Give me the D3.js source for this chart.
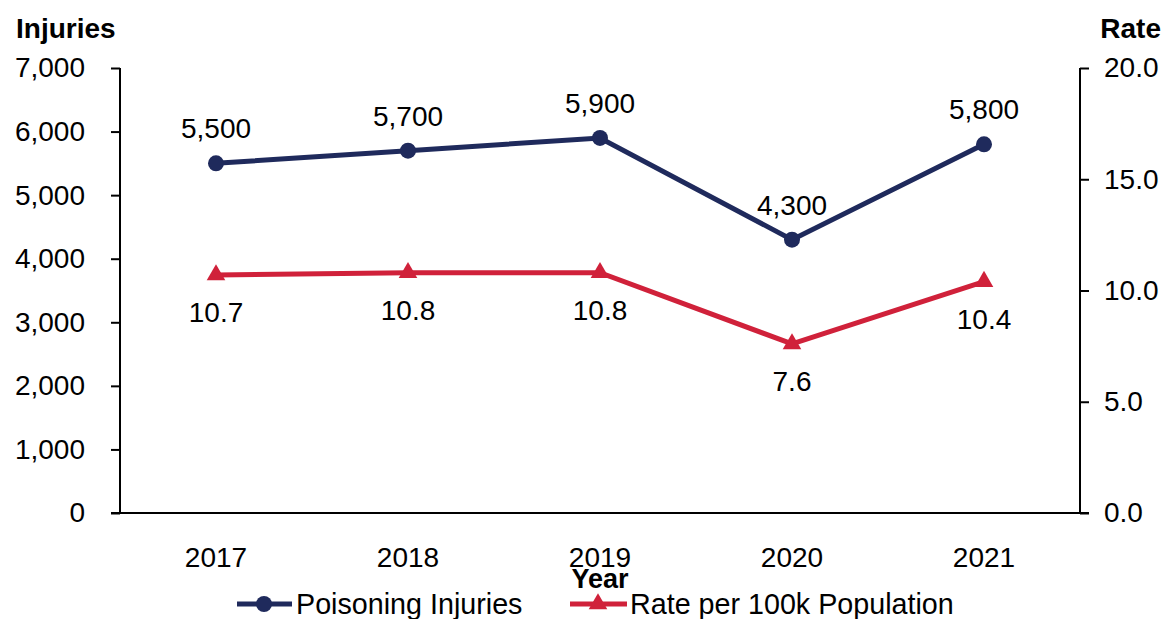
<!DOCTYPE html>
<html>
<head>
<meta charset="utf-8">
<script src="https://cdn.jsdelivr.net/npm/d3@7"></script>
<style>
  body { margin: 0; background: #fff; }
  svg text { font-family: "Liberation Sans", Arial, sans-serif; fill: #000; }
</style>
</head>
<body>
<div id="viz"></div>
<script>
var years = ["2017", "2018", "2019", "2020", "2021"];
var injuries = [5500, 5700, 5900, 4300, 5800];
var rates = [10.7, 10.8, 10.8, 7.6, 10.4];
var leftTicks = [0, 1000, 2000, 3000, 4000, 5000, 6000, 7000];
var rightTicks = [0, 5, 10, 15, 20];

var navy = "#1f2a5c", red = "#d0213a";

var margin = {top: 68, right: 83, bottom: 106, left: 120},
    width = 1163 - margin.left - margin.right,
    height = 619 - margin.top - margin.bottom;

var svg = d3.select("#viz")
    .append("svg")
    .attr("width", 1163)
    .attr("height", 619);

var g = svg.append("g")
    .attr("transform", "translate(" + margin.left + "," + margin.top + ")");

var x = d3.scaleBand().domain(years).range([0, width]);
var yL = d3.scaleLinear().domain([0, 7000]).range([height, 0]);
var yR = d3.scaleLinear().domain([0, 20]).range([height, 0]);
var cx = function(i) { return x(years[i]) + x.bandwidth() / 2; };

// axes
var left = g.append("g")
    .call(d3.axisLeft(yL).tickValues(leftTicks).tickSize(9).tickPadding(26).tickFormat(d3.format(",")));
var right = g.append("g")
    .attr("transform", "translate(" + width + ",0)")
    .call(d3.axisRight(yR).tickValues(rightTicks).tickSize(9).tickPadding(15).tickFormat(d3.format(".1f")));
[left, right].forEach(function(a) {
    a.select(".domain").remove();
    a.selectAll("line").attr("stroke", "#000").attr("stroke-width", 2);
    a.selectAll("text").style("font-size", "28px");
});
g.append("line").attr("x1", 0).attr("x2", 0).attr("y1", 0).attr("y2", height)
    .attr("stroke", "#000").attr("stroke-width", 2);
g.append("line").attr("x1", width).attr("x2", width).attr("y1", 0).attr("y2", height)
    .attr("stroke", "#000").attr("stroke-width", 2);

var bottom = g.append("g")
    .attr("transform", "translate(0," + height + ")")
    .call(d3.axisBottom(x).tickSize(0).tickPadding(34));
bottom.select(".domain").remove();
bottom.selectAll("text").style("font-size", "28px");
g.append("line").attr("x1", -9).attr("x2", width + 9).attr("y1", height).attr("y2", height)
    .attr("stroke", "#000").attr("stroke-width", 2);

// titles
svg.append("text").attr("x", 16).attr("y", 38).style("font-size", "28px").style("font-weight", "bold").text("Injuries");
svg.append("text").attr("x", 1161).attr("y", 38).attr("text-anchor", "end").style("font-size", "28px").style("font-weight", "bold").text("Rate");
svg.append("text").attr("x", 600).attr("y", 588).attr("text-anchor", "middle").style("font-size", "27px").style("font-weight", "bold").text("Year");

// injuries line
g.append("path")
    .datum(injuries)
    .attr("fill", "none").attr("stroke", navy).attr("stroke-width", 5)
    .attr("d", d3.line().x(function(d, i) { return cx(i); }).y(function(d) { return yL(d); }));
g.selectAll(".dot").data(injuries).enter().append("circle")
    .attr("cx", function(d, i) { return cx(i); })
    .attr("cy", function(d) { return yL(d); })
    .attr("r", 8).attr("fill", navy);
g.selectAll(".ilab").data(injuries).enter().append("text")
    .attr("x", function(d, i) { return cx(i); })
    .attr("y", function(d) { return yL(d) - 25; })
    .attr("text-anchor", "middle").style("font-size", "28px")
    .text(function(d) { return d3.format(",")(d); });

// rate line
var tri = d3.symbol().type(d3.symbolTriangle).size(150);
g.append("path")
    .datum(rates)
    .attr("fill", "none").attr("stroke", red).attr("stroke-width", 5)
    .attr("d", d3.line().x(function(d, i) { return cx(i); }).y(function(d) { return yR(d); }));
g.selectAll(".tri").data(rates).enter().append("path")
    .attr("d", tri)
    .attr("transform", function(d, i) { return "translate(" + cx(i) + "," + yR(d) + ")"; })
    .attr("fill", red);
g.selectAll(".rlab").data(rates).enter().append("text")
    .attr("x", function(d, i) { return cx(i); })
    .attr("y", function(d) { return yR(d) + 47; })
    .attr("text-anchor", "middle").style("font-size", "28px")
    .text(function(d) { return d3.format(".1f")(d); });

// legend
var leg = svg.append("g");
leg.append("line").attr("x1", 237).attr("x2", 292).attr("y1", 604).attr("y2", 604).attr("stroke", navy).attr("stroke-width", 5);
leg.append("circle").attr("cx", 264).attr("cy", 604).attr("r", 8).attr("fill", navy);
leg.append("text").attr("x", 296).attr("y", 614).style("font-size", "28.7px").text("Poisoning Injuries");
leg.append("line").attr("x1", 570).attr("x2", 627).attr("y1", 604).attr("y2", 604).attr("stroke", red).attr("stroke-width", 5);
leg.append("path").attr("d", tri).attr("transform", "translate(598,604)").attr("fill", red);
leg.append("text").attr("x", 630).attr("y", 614).style("font-size", "28.7px").text("Rate per 100k Population");
</script>
</body>
</html>
